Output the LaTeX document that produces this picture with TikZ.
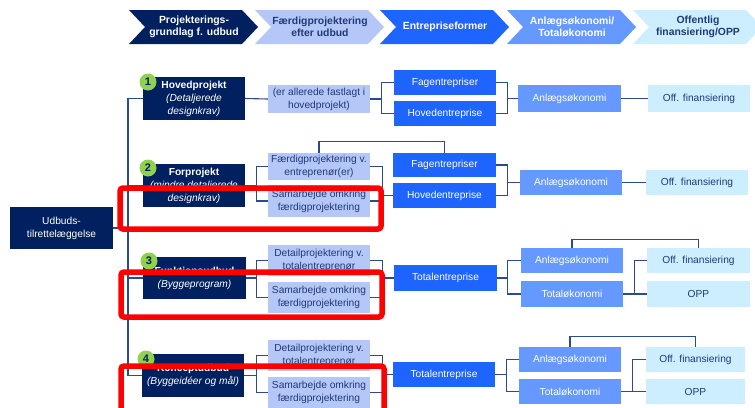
\documentclass[tikz,border=0pt]{standalone}
\usepackage{fontspec}
\setmainfont{Liberation Sans}
\usetikzlibrary{calc}

\definecolor{navy}{HTML}{002060}
\definecolor{lightblue}{HTML}{B4C7F7}
\definecolor{brightblue}{HTML}{1E64FF}
\definecolor{midblue}{HTML}{6699FF}
\definecolor{paleblue}{HTML}{CCEEFF}
\definecolor{darktxt}{HTML}{1F3A7A}
\definecolor{linecol}{HTML}{2B4A8F}
\definecolor{numgreen}{HTML}{92D050}
\definecolor{framered}{HTML}{FF0000}

\tikzstyle{box}=[rectangle,inner sep=1pt,align=center,minimum width=102pt,font=\fontsize{10.2}{13}\selectfont]
\tikzstyle{titlebox}=[box,fill=navy,text=white]
\tikzstyle{grundbox}=[box,fill=lightblue,text=darktxt]
\tikzstyle{entbox}=[box,fill=brightblue,text=white]
\tikzstyle{oekbox}=[box,fill=midblue,text=white]
\tikzstyle{finbox}=[box,fill=paleblue,text=darktxt]
\tikzstyle{nummer}=[circle,fill=numgreen,text=navy,inner sep=0pt,minimum size=17pt,font=\bfseries\fontsize{11}{11}\selectfont]
\tikzstyle{link}=[draw=linecol,line width=1.1pt]
\tikzstyle{redframe}=[draw=framered,line width=5.5pt,rounded corners=3pt]

\begin{document}
\begin{tikzpicture}[x=1pt,y=-1pt]
\useasboundingbox (0,0) rectangle (755,407);

% phases across the top
\foreach \x/\fc/\tc/\txt [count=\i] in {
  129/navy/white/{Projekterings-\\grundlag f. udbud},
  255/lightblue/darktxt/{Færdigprojektering\\efter udbud},
  380/brightblue/white/{Entrepriseformer},
  507/midblue/white/{Anlægsøkonomi/\\Totaløkonomi},
  633/paleblue/darktxt/{Offentlig\\finansiering/OPP}}
{
  \fill[\fc] (\x,10) -- ++(113,0) -- ++(16,17) -- ++(-16,17) -- ++(-113,0) -- ++(16,-17) -- cycle;
  \node[text=\tc,align=center,font=\bfseries\fontsize{10.4}{12}\selectfont] (fase\i) at (\x+65,27) {\txt};
}

% left column
\node[titlebox,minimum width=103pt,minimum height=42pt] (ud) at (61.5,228) {Udbuds-\\tilrettelæggelse};

\node[titlebox,minimum height=43pt] (t1) at (194,98.5) {\textbf{Hovedprojekt}\\\textit{(Detaljerede}\\\textit{designkrav)}};
\node[titlebox,minimum height=43pt] (t2) at (194,185.5) {\textbf{Forprojekt}\\\textit{(mindre detaljerede}\\\textit{designkrav)}};
\node[titlebox,minimum width=103pt,minimum height=42pt] (t3) at (194.5,278) {\textbf{Funktionsudbud}\\\textit{(Byggeprogram)}};
\node[titlebox,minimum height=43pt] (t4) at (193,375.5) {\textbf{Konceptudbud}\\\textit{(Byggeidéer og mål)}};

\node[nummer] (n1) at (148,82) {1};
\node[nummer] (n2) at (148,168) {2};
\node[nummer] (n3) at (149,261) {3};
\node[nummer] (n4) at (146,359) {4};

% projektering after udbud
\node[grundbox,minimum height=28pt] (r1) at (319,99) {(er allerede fastlagt i\\hovedprojekt)};
\node[grundbox,minimum height=27pt] (f2a) at (319,166.5) {Færdigprojektering v.\\entreprenør(er)};
\node[grundbox,minimum height=32pt] (f2b) at (319,201) {Samarbejde omkring\\færdigprojektering};
\node[grundbox,minimum height=31pt] (d3a) at (319,260.5) {Detailprojektering v.\\totalentreprenør};
\node[grundbox,minimum height=31pt] (s3b) at (319,297.5) {Samarbejde omkring\\færdigprojektering};
\node[grundbox,minimum height=31pt] (d4a) at (319,355.5) {Detailprojektering v.\\totalentreprenør};
\node[grundbox,minimum height=31pt] (s4b) at (319,392.5) {Samarbejde omkring\\færdigprojektering};

% entrepriseformer
\node[entbox,minimum height=25pt] (fa1) at (445,82.5) {Fagentrepriser};
\node[entbox,minimum height=25pt] (he1) at (445,113.5) {Hovedentreprise};
\node[entbox,minimum width=103pt,minimum height=24pt] (fa2) at (444.5,165) {Fagentrepriser};
\node[entbox,minimum width=103pt,minimum height=25pt] (he2) at (444.5,195.5) {Hovedentreprise};
\node[entbox,minimum width=103pt,minimum height=26pt] (te3) at (445.5,278) {Totalentreprise};
\node[entbox,minimum height=25pt] (te4) at (444,374.5) {Totalentreprise};

% oekonomi
\node[oekbox,minimum width=103pt,minimum height=27pt] (an1) at (569.5,98.5) {Anlægsøkonomi};
\node[oekbox,minimum height=25pt] (an2) at (571,182.5) {Anlægsøkonomi};
\node[oekbox,minimum height=25pt] (an3) at (572,260.5) {Anlægsøkonomi};
\node[oekbox,minimum height=26pt] (to3) at (572,294) {Totaløkonomi};
\node[oekbox,minimum height=25pt] (an4) at (570,359.5) {Anlægsøkonomi};
\node[oekbox,minimum height=25pt] (to4) at (570,391.5) {Totaløkonomi};

% finansiering
\node[finbox,minimum height=27pt] (of1) at (699,98.5) {Off. finansiering};
\node[finbox,minimum height=25pt] (of2) at (697,182.5) {Off. finansiering};
\node[finbox,minimum width=103pt,minimum height=25pt] (of3) at (698.5,260.5) {Off. finansiering};
\node[finbox,minimum width=103pt,minimum height=26pt] (op3) at (698.5,294) {OPP};
\node[finbox,minimum width=99pt,minimum height=25pt] (of4) at (695.5,359.5) {Off. finansiering};
\node[finbox,minimum width=99pt,minimum height=25pt] (op4) at (695.5,391.5) {OPP};

% spine
\coordinate (spine) at (128,0);
\draw[link] (t1.west) -- (t1.west -| spine) -- (t4.west -| spine) -- (t4.west);
\draw[link] (t2.west) -- (t2.west -| spine);
\draw[link] (t3.west) -- (t3.west -| spine);
\draw[link] (ud.east) -- (ud.east -| spine);

% row 1
\draw[link] (t1.east) -- (r1.west);
\draw[link] (r1.east) -- ++(12,0);
\draw[link] (fa1.west) -- ++(-12,0) |- (he1.west);
\draw[link] (fa1.east) -- ++(11,0) |- (he1.east);
\draw[link] (an1.west) -- ++(-11,0);
\draw[link] (an1.east) -- (of1.west);

% row 2
\draw[link] (t2.east) -- ++(12,0);
\draw[link] (f2a.west) -- ++(-11,0) |- (f2b.west);
\draw[link] (f2a.east) -- ++(12,0) |- (f2b.east);
\draw[link] (he2.west) -- ++(-11.5,0);
\draw[link] (f2a.north) -- ++(0,-11) -| (fa2.north);
\draw[link] (fa2.east) -- ++(11,0) |- (he2.east);
\draw[link] (an2.west) -- ++(-13,0);
\draw[link] (an2.east) -- (of2.west);

% row 3
\draw[link] (t3.east) -- ++(11,0);
\draw[link] (d3a.west) -- ++(-11,0) |- (s3b.west);
\draw[link] (d3a.east) -- ++(12,0) |- (s3b.east);
\draw[link] (te3.west) -- ++(-12,0);
\draw[link] (te3.east) -- ++(11,0);
\draw[link] (an3.west) -- ++(-13,0) |- (to3.west);
\draw[link] (an3.north) -- ++(0,-8) -| (of3.north);
\draw[link] (to3.east) -- (op3.west);
\draw[link] (of3.west) -- ++(-12,0) |- (op3.west);

% row 4
\draw[link] (t4.east) -- ++(13,0);
\draw[link] (d4a.west) -- ++(-11,0) |- (s4b.west);
\draw[link] (d4a.east) -- ++(12,0) |- (s4b.east);
\draw[link] (te4.west) -- ++(-11,0);
\draw[link] (te4.east) -- ++(12,0);
\draw[link] (an4.west) -- ++(-12,0) |- (to4.west);
\draw[link] (an4.north) -- ++(0,-10) -| (of4.north);
\draw[link] (to4.east) -- (op4.west);
\draw[link] (of4.west) -- ++(-13,0) |- (op4.west);

% red frames
\draw[redframe] (120,188) rectangle (381,229);
\draw[redframe] (121,272) rectangle (382,317);
\draw[redframe] (121,366) rectangle (384,420);
\end{tikzpicture}
\end{document}
